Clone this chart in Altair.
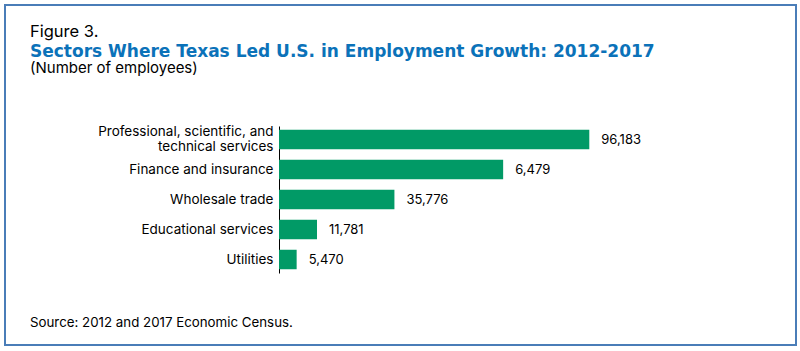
import altair as alt
import pandas as pd

# ---- data ----
sectors = [
    "Professional, scientific, and technical services",
    "Finance and insurance",
    "Wholesale trade",
    "Educational services",
    "Utilities",
]
values = [96183, 69479, 35776, 11781, 5470]
value_labels = ["96,183", "6,479", "35,776", "11,781", "5,470"]

fig_label = "Figure 3."
title_text = "Sectors Where Texas Led U.S. in Employment Growth: 2012-2017"
subtitle_text = "(Number of employees)"
source_text = "Source: 2012 and 2017 Economic Census."

FONT = "Inter"
TFONT = "DejaVu Sans"
GREEN = "#019a66"
BLUE = "#0b72b9"
FRAME = "#4a7db8"

df = pd.DataFrame({"sector": sectors, "value": values, "label": value_labels})

y_enc = alt.Y(
    "sector:N",
    sort=None,
    scale=alt.Scale(range=[121, 268], paddingInner=0.35, paddingOuter=0.125),
    axis=alt.Axis(
        title=None,
        ticks=False,
        grid=False,
        domainColor="#000000",
        domainWidth=1,
        labelColor="#000000",
        labelFont=FONT,
        labelFontSize=13.5,
        labelPadding=6,
        labelLineHeight=15,
        offset=-274,
        labelOffset={
            "condition": {"test": "indexof(datum.value, ', and ') >= 0", "value": -7.5},
            "value": 0,
        },
        labelExpr="split(replace(datum.label, ', and ', ', and|'), '|')",
    ),
)
x_enc = alt.X(
    "value:Q",
    scale=alt.Scale(range=[274, 584.3], zero=True, nice=False),
    axis=None,
)

base = alt.Chart(df)
bars = base.mark_bar(color=GREEN).encode(x=x_enc, y=y_enc)
vals = base.mark_text(
    align="left", baseline="middle", dx=12, font=FONT, fontSize=13, color="#000000"
).encode(x=x_enc, y=y_enc, text="label:N")


def text_layer(txt, x, y, size, color="#000000", weight="normal", font=FONT):
    return (
        alt.Chart(pd.DataFrame({"t": [txt]}))
        .mark_text(
            align="left",
            baseline="alphabetic",
            font=font,
            fontSize=size,
            fontWeight=weight,
            color=color,
        )
        .encode(text="t:N", x=alt.value(x), y=alt.value(y))
    )


fig = text_layer(fig_label, 25, 31.5, 16.5)
ttl = text_layer(title_text, 25, 51.5, 17, BLUE, "bold", TFONT)
sub = text_layer(subtitle_text, 25, 67.5, 15)
src = text_layer(source_text, 25, 322, 13.3)

chart = (
    alt.layer(bars, vals, fig, ttl, sub, src)
    .properties(
        width=791,
        height=340,
        autosize=alt.AutoSizeParams(type="none"),
        padding={"left": 5, "top": 5, "right": 4, "bottom": 6},
        background="#ffffff",
    )
    .configure_view(stroke=FRAME, strokeWidth=2)
)

chart.save("out.html", embed_options={"renderer": "svg", "actions": False})
